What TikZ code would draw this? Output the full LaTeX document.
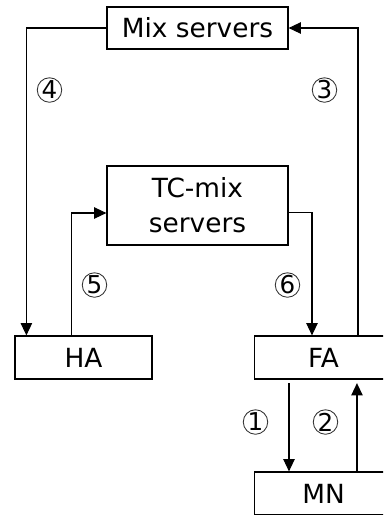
\documentclass[tikz,border=0pt]{standalone}
\usepackage{fontspec}
\newfontfamily\diagfont{DejaVu Sans}
\usetikzlibrary{arrows.meta}
\begin{document}
\begin{tikzpicture}[
      x=0.02cm, y=-0.02cm,
      % --- GLOBAL STYLES ---
      every node/.style={font=\diagfont\fontsize{15}{20}\selectfont},
      box/.style={rectangle, draw=black, line width=0.7pt, fill=white, align=center, inner sep=0pt},
      wide/.style={minimum width=3.62cm, minimum height=0.84cm},
      agent/.style={minimum width=2.74cm, minimum height=0.86cm},
      cut/.style={minimum width=3.4cm, minimum height=0.86cm},
      step-no/.style={circle, draw=black!80, line width=0.5pt, minimum size=0.49cm, inner sep=0pt,
        font=\diagfont\fontsize{14}{14}\selectfont},
      line/.style={line width=0.6pt, draw=black},
      flow/.style={line, -{Triangle[length=7pt, width=6.5pt]}}
  ]
    \useasboundingbox (0,0) rectangle (383,515);
    \clip (0,0) rectangle (383,515);
    %
    % 1. Servers
    \node[box, wide] (mix) at (197.5, 28) {Mix servers};
    \node[box, wide, minimum height=1.58cm] (tcmix) at (197.5, 205.5) {TC-mix\\servers};
    %
    % 2. Agents and mobile node (FA, MN run off the right edge)
    \node[box, agent] (ha) at (83.5, 357.5) {HA};
    \node[box, cut, anchor=west] (fa) at (254, 357.5) {FA\hspace*{0.64cm}};
    \node[box, cut, anchor=west] (mn) at (254, 493.5) {MN\hspace*{0.64cm}};
    %
    % 3. Links via mix servers
    \draw[flow] ([xshift=2.08cm]fa.north west) |- (mix.east);
    \draw[flow] (mix.west) -| ([xshift=0.24cm]ha.north west);
    %
    % 4. Links via TC-mix servers
    \draw[flow] ([xshift=1.14cm]ha.north west) |- ([yshift=-0.15cm]tcmix.west);
    \draw[flow] ([yshift=-0.14cm]tcmix.east) -| ([xshift=1.16cm]fa.north west);
    %
    % 5. Links FA / MN
    \draw[flow, shorten <=2pt] ([xshift=0.7cm]fa.south west) -- ([xshift=0.7cm]mn.north west);
    \draw[flow, shorten >=2pt] ([xshift=2.06cm]mn.north west) -- ([xshift=2.06cm]fa.south west);
    %
    % 6. Step numbers
    \node[step-no] (n1) at (255.5, 422) {1};
    \node[step-no] (n2) at (325.5, 422) {2};
    \node[step-no] (n3) at (324.5, 90) {3};
    \node[step-no] (n4) at (49.5, 90) {4};
    \node[step-no] (n5) at (94.5, 285) {5};
    \node[step-no] (n6) at (287.5, 285) {6};
  \end{tikzpicture}
\end{document}
